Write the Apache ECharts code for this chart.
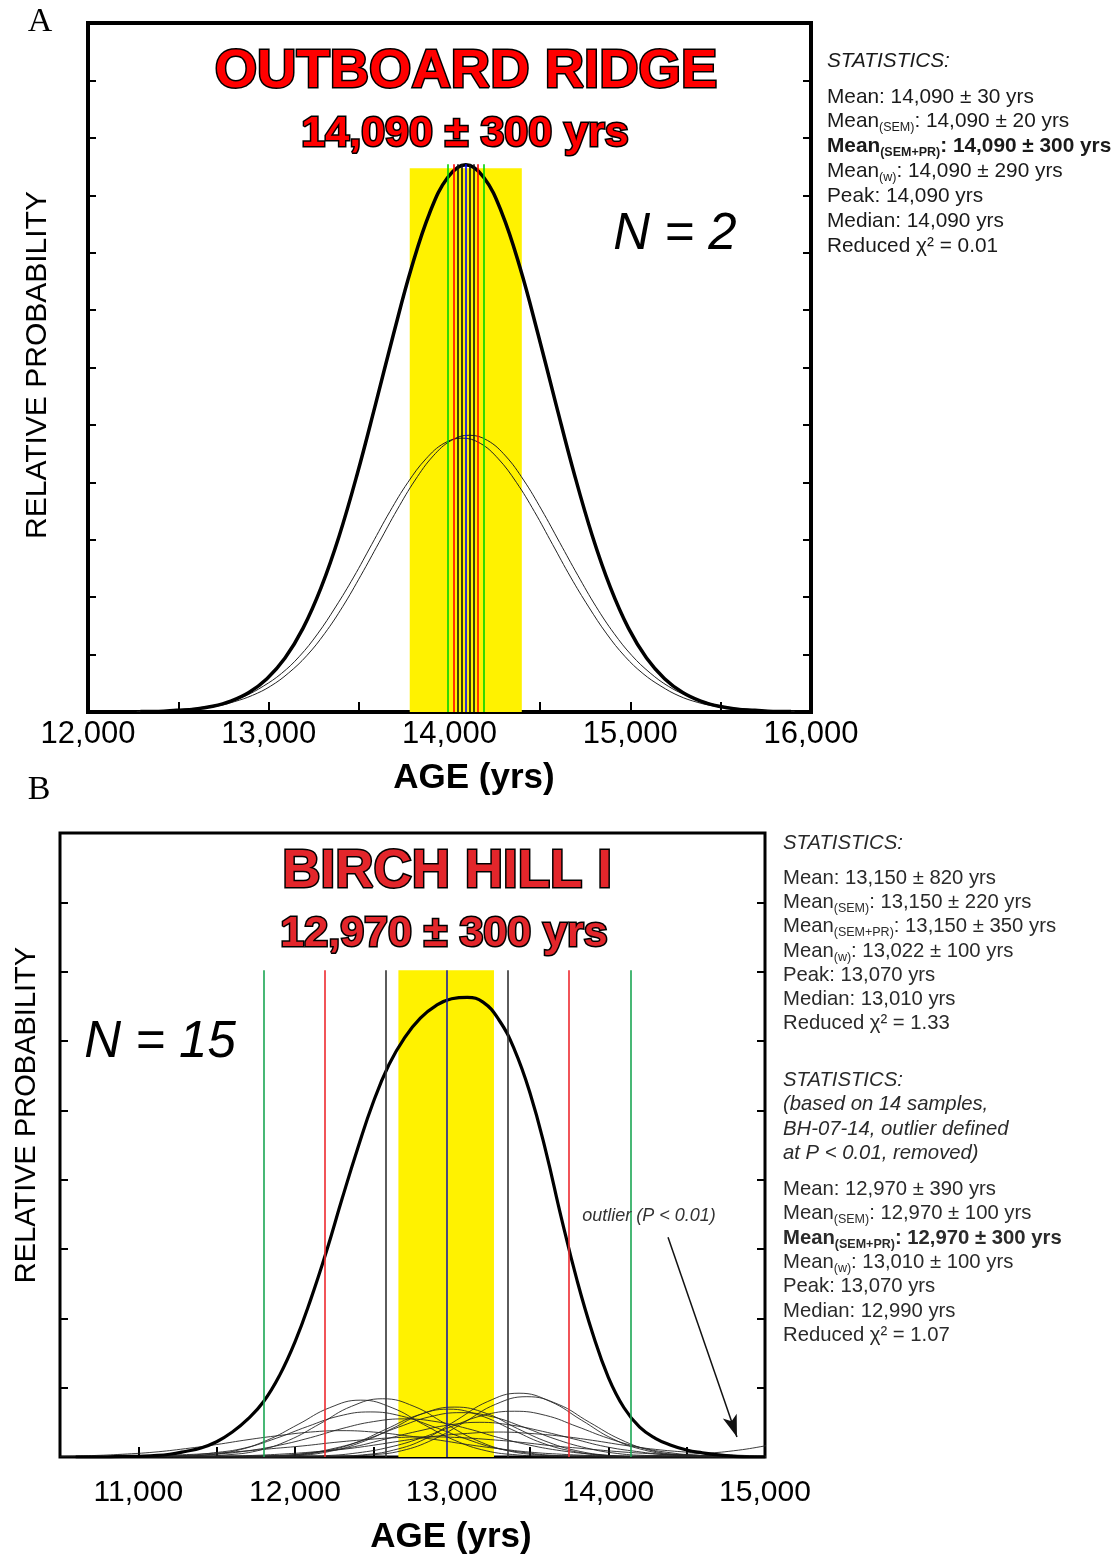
<!DOCTYPE html>
<html><head><meta charset="utf-8">
<script src="https://cdn.jsdelivr.net/npm/echarts/dist/echarts.min.js"></script>
<style>html,body{margin:0;padding:0;background:#fff}#c{width:1115px;height:1559px}</style>
</head><body><div id="c"></div>
<script>
// ---------------- Panel A : Outboard Ridge ----------------
const ridgeXTicks = [12000, 13000, 14000, 15000, 16000];
const ridgeSumAges = [12290,12390,12490,12590,12690,12790,12890,12990,13090,13190,13290,13390,13490,13590,13690,13790,13890,13990,14090,14190,14290,14390,14490,14590,14690,14790,14890,14990,15090,15190,15290,15390,15490,15590,15690,15790,15890];
const ridgeSumValues = [0.01,0.01,0.03,0.05,0.10,0.19,0.34,0.58,0.94,1.46,2.17,3.07,4.15,5.35,6.58,7.74,8.69,9.31,9.53,9.31,8.69,7.74,6.58,5.35,4.15,3.07,2.17,1.46,0.94,0.58,0.34,0.19,0.10,0.05,0.03,0.01,0.01];
const ridgeSampleAges1 = [12270,12370,12470,12570,12670,12770,12870,12970,13070,13170,13270,13370,13470,13570,13670,13770,13870,13970,14070,14170,14270,14370,14470,14570,14670,14770,14870,14970,15070,15170,15270,15370,15470,15570,15670,15770,15870];
const ridgeSampleValues1 = [0.01,0.02,0.03,0.06,0.10,0.17,0.28,0.45,0.67,0.97,1.36,1.83,2.35,2.92,3.49,4.00,4.41,4.68,4.77,4.68,4.41,4.00,3.49,2.92,2.35,1.83,1.36,0.97,0.67,0.45,0.28,0.17,0.10,0.06,0.03,0.02,0.01];
const ridgeSampleAges2 = [12310,12410,12510,12610,12710,12810,12910,13010,13110,13210,13310,13410,13510,13610,13710,13810,13910,14010,14110,14210,14310,14410,14510,14610,14710,14810,14910,15010,15110,15210,15310,15410,15510,15610,15710,15810,15910];
const ridgeSampleValues2 = [0.01,0.02,0.03,0.06,0.10,0.18,0.29,0.45,0.68,0.98,1.37,1.84,2.38,2.95,3.52,4.04,4.46,4.73,4.82,4.73,4.46,4.04,3.52,2.95,2.38,1.84,1.37,0.98,0.68,0.45,0.29,0.18,0.10,0.06,0.03,0.02,0.01];
const ridgeBand = [13780, 14400];
const ridgeLineAges  = [13990, 14022, 14048, 14068, 14090, 14112, 14132, 14158, 14190];
const ridgeLineRoles = ['3sd','2sd','1sd','1sd','mean','1sd','1sd','2sd','3sd'];

// ---------------- Panel B : Birch Hill I ----------------
const birchXTicks = [11000, 12000, 13000, 14000, 15000];
const birchSumAges = [10600,10700,10800,10900,11000,11100,11200,11300,11400,11500,11600,11700,11800,11900,12000,12100,12200,12300,12400,12500,12600,12700,12800,12900,13000,13100,13200,13300,13400,13500,13600,13700,13800,13900,14000,14100,14200,14300,14400,14500,14600,14700,14800,14900,15000];
const birchSumValues = [0.00,0.00,0.00,0.01,0.01,0.02,0.04,0.08,0.13,0.22,0.36,0.55,0.80,1.17,1.66,2.27,2.96,3.72,4.45,5.12,5.66,6.05,6.33,6.51,6.61,6.63,6.56,6.31,5.88,5.25,4.42,3.45,2.55,1.78,1.15,0.71,0.43,0.27,0.17,0.10,0.06,0.03,0.01,0.00,0.00];
const birchSampleAges = [
 [10620,10820,11020,11220,11420,11620,11820,12020,12220,12420,12620,12820,13020,13220,13420,13620,13820,14020,14220],
 [10760,10960,11160,11360,11560,11760,11960,12160,12360,12560,12760,12960,13160,13360,13560,13760,13960,14160,14360],
 [10680,10880,11080,11280,11480,11680,11880,12080,12280,12480,12680,12880,13080,13280,13480,13680,13880,14080,14280],
 [10900,11100,11300,11500,11700,11900,12100,12300,12500,12700,12900,13100,13300,13500,13700,13900,14100,14300,14500],
 [11180,11380,11580,11780,11980,12180,12380,12580,12780,12980,13180,13380,13580,13780,13980,14180,14380,14580,14780],
 [11220,11420,11620,11820,12020,12220,12420,12620,12820,13020,13220,13420,13620,13820,14020,14220,14420,14620,14820],
 [11260,11460,11660,11860,12060,12260,12460,12660,12860,13060,13260,13460,13660,13860,14060,14260,14460,14660,14860],
 [11380,11580,11780,11980,12180,12380,12580,12780,12980,13180,13380,13580,13780,13980,14180,14380,14580,14780,14980],
 [11630,11830,12030,12230,12430,12630,12830,13030,13230,13430,13630,13830,14030,14230,14430,14630,14830,15030,15230],
 [11680,11880,12080,12280,12480,12680,12880,13080,13280,13480,13680,13880,14080,14280,14480,14680,14880,15080,15280],
 [11600,11800,12000,12200,12400,12600,12800,13000,13200,13400,13600,13800,14000,14200,14400,14600,14800,15000,15200],
 [10500,10700,10900,11100,11300,11500,11700,11900,12100,12300,12500,12700,12900,13100,13300,13500,13700,13900,14100],
 [11500,11700,11900,12100,12300,12500,12700,12900,13100,13300,13500,13700,13900,14100,14300,14500,14700,14900,15100],
 [11050,11250,11450,11650,11850,12050,12250,12450,12650,12850,13050,13250,13450,13650,13850,14050,14250,14450,14650],
 [14000,14200,14400,14600,14800,15000,15200]
];
const birchSampleValues = [
 [0.00,0.00,0.00,0.01,0.03,0.09,0.24,0.47,0.71,0.82,0.71,0.47,0.24,0.09,0.03,0.01,0.00,0.00,0.00],
 [0.00,0.00,0.00,0.01,0.03,0.09,0.24,0.48,0.73,0.84,0.73,0.48,0.24,0.09,0.03,0.01,0.00,0.00,0.00],
 [0.00,0.00,0.01,0.02,0.06,0.13,0.27,0.44,0.59,0.65,0.59,0.44,0.27,0.13,0.06,0.02,0.01,0.00,0.00],
 [0.00,0.00,0.01,0.04,0.09,0.17,0.28,0.41,0.51,0.55,0.51,0.41,0.28,0.17,0.09,0.04,0.01,0.00,0.00],
 [0.00,0.00,0.00,0.00,0.02,0.08,0.20,0.40,0.60,0.69,0.60,0.40,0.20,0.08,0.02,0.00,0.00,0.00,0.00],
 [0.00,0.00,0.00,0.00,0.02,0.08,0.21,0.41,0.63,0.72,0.63,0.41,0.21,0.08,0.02,0.00,0.00,0.00,0.00],
 [0.00,0.00,0.01,0.02,0.05,0.13,0.26,0.43,0.58,0.64,0.58,0.43,0.26,0.13,0.05,0.02,0.01,0.00,0.00],
 [0.00,0.00,0.01,0.03,0.08,0.15,0.26,0.37,0.46,0.50,0.46,0.37,0.26,0.15,0.08,0.03,0.01,0.00,0.00],
 [0.00,0.00,0.00,0.01,0.03,0.10,0.26,0.53,0.80,0.92,0.80,0.53,0.26,0.10,0.03,0.01,0.00,0.00,0.00],
 [0.00,0.00,0.00,0.01,0.03,0.09,0.25,0.50,0.76,0.87,0.76,0.50,0.25,0.09,0.03,0.01,0.00,0.00,0.00],
 [0.00,0.00,0.01,0.02,0.06,0.14,0.27,0.44,0.60,0.66,0.60,0.44,0.27,0.14,0.06,0.02,0.01,0.00,0.00],
 [0.01,0.02,0.04,0.07,0.12,0.18,0.25,0.31,0.36,0.38,0.36,0.31,0.25,0.18,0.12,0.07,0.04,0.02,0.01],
 [0.01,0.02,0.04,0.07,0.11,0.17,0.24,0.30,0.34,0.36,0.34,0.30,0.24,0.17,0.11,0.07,0.04,0.02,0.01],
 [0.02,0.03,0.05,0.08,0.12,0.16,0.21,0.25,0.28,0.29,0.28,0.25,0.21,0.16,0.12,0.08,0.05,0.03,0.02],
 [0.00,0.01,0.03,0.05,0.09,0.16,0.25]
];
const birchBand = [12660, 13270];
const birchLineAges  = [11800, 12190, 12580, 12970, 13360, 13750, 14140];
const birchLineRoles = ['3sd','2sd','1sd','mean','1sd','2sd','3sd'];
const birchOutlierArrow = [[14381, 3.17], [14821, 0.29]];

// ---------------- Texts ----------------
const statsA = [
 '{i|STATISTICS:}',
 '{n|Mean: 14,090 ± 30 yrs}',
 '{n|Mean}{s|(SEM)}{n|: 14,090 ± 20 yrs}',
 '{b|Mean}{sb|(SEM+PR)}{b|: 14,090 ± 300 yrs}',
 '{n|Mean}{s|(w)}{n|: 14,090 ± 290 yrs}',
 '{n|Peak: 14,090 yrs}',
 '{n|Median: 14,090 yrs}',
 '{n|Reduced χ² = 0.01}'
];
const statsB = [
 '{i|STATISTICS:}',
 '{n|Mean: 13,150 ± 820 yrs}',
 '{n|Mean}{s|(SEM)}{n|: 13,150 ± 220 yrs}',
 '{n|Mean}{s|(SEM+PR)}{n|: 13,150 ± 350 yrs}',
 '{n|Mean}{s|(w)}{n|: 13,022 ± 100 yrs}',
 '{n|Peak: 13,070 yrs}',
 '{n|Median: 13,010 yrs}',
 '{n|Reduced χ² = 1.33}',
 '{i|STATISTICS:}',
 '{i|(based on 14 samples,}',
 '{i|BH-07-14, outlier defined}',
 '{i|at P < 0.01, removed)}',
 '{n|Mean: 12,970 ± 390 yrs}',
 '{n|Mean}{s|(SEM)}{n|: 12,970 ± 100 yrs}',
 '{b|Mean}{sb|(SEM+PR)}{b|: 12,970 ± 300 yrs}',
 '{n|Mean}{s|(w)}{n|: 13,010 ± 100 yrs}',
 '{n|Peak: 13,070 yrs}',
 '{n|Median: 12,990 yrs}',
 '{n|Reduced χ² = 1.07}'
];

// ================= build =================
const chart = echarts.init(document.getElementById('c'), null, {renderer: 'canvas'});
const FONT = 'Liberation Sans, Arial, Helvetica, sans-serif';
const pairs = (a, v) => a.map((x, i) => [x, v[i]]);
const fmt = v => String(v).replace(/\B(?=(\d{3})+(?!\d))/g, ',');

const colorsA = {'3sd': '#00d400', '2sd': '#ff0000', '1sd': '#111111', 'mean': '#0000ff'};
const colorsB = {'3sd': '#1aa653', '2sd': '#ee2a2f', '1sd': '#333333', 'mean': '#1f1f9c'};

function xAxisCfg(gi, min, max, ticks, fs, margin) {
  return {
    type: 'value', gridIndex: gi, min: min, max: max, interval: 500,
    axisLine: {show: false},
    splitLine: {show: false},
    axisTick: {show: true, inside: true, length: 10, lineStyle: {color: '#000', width: 2}},
    axisLabel: {show: true, color: '#000', fontSize: fs, fontFamily: FONT, margin: margin,
      formatter: v => ticks.indexOf(v) >= 0 ? fmt(v) : ''}
  };
}
function yAxisCfg(gi, max, pos) {
  return {
    type: 'value', gridIndex: gi, min: 0, max: max, interval: 1, position: pos,
    axisLine: {show: false}, splitLine: {show: false}, axisLabel: {show: false},
    axisTick: {show: true, inside: true, length: 8, lineStyle: {color: '#000', width: 2}}
  };
}
function markSeries(xi, yi, band, bandTop, lineAges, roles, colors, lineTop, lw) {
  return {
    type: 'line', xAxisIndex: xi, yAxisIndex: yi, data: [], silent: true, z: 1,
    markArea: {silent: true, itemStyle: {color: '#fff200'},
      data: [[{coord: [band[0], 0]}, {coord: [band[1], bandTop]}]]},
    markLine: {silent: true, symbol: ['none', 'none'], label: {show: false},
      data: lineAges.map((a, i) => [
        {coord: [a, 0], lineStyle: {color: colors[roles[i]], width: lw, type: 'solid'}},
        {coord: [a, lineTop]}
      ])}
  };
}
function curve(xi, yi, data, color, width, z, sm) {
  return {type: 'line', xAxisIndex: xi, yAxisIndex: yi, data: data, showSymbol: false, symbol: 'none',
    smooth: sm, silent: true, z: z, lineStyle: {color: color, width: width}, clip: true};
}

const series = [];
series.push(markSeries(0, 0, ridgeBand, 9.47, ridgeLineAges, ridgeLineRoles, colorsA, 9.54, 1.6));
series.push(curve(0, 0, pairs(ridgeSampleAges1, ridgeSampleValues1), '#222', 1, 3, 0.4));
series.push(curve(0, 0, pairs(ridgeSampleAges2, ridgeSampleValues2), '#222', 1, 3, 0.4));
series.push(curve(0, 0, pairs(ridgeSumAges, ridgeSumValues), '#000', 3.5, 4, 0.4));
series.push(markSeries(1, 2, birchBand, 7.02, birchLineAges, birchLineRoles, colorsB, 7.02, 1.6));
birchSampleAges.forEach((ages, i) => series.push(curve(1, 2, pairs(ages, birchSampleValues[i]), '#262626', 0.9, 3, 0.45)));
series.push(curve(1, 2, pairs(birchSumAges, birchSumValues), '#000', 3.2, 4, 0.45));
series.push({type: 'line', xAxisIndex: 1, yAxisIndex: 2, data: [], silent: true, z: 5,
  markLine: {silent: true, symbol: ['none', 'arrow'], symbolSize: [11, 22], label: {show: false},
    lineStyle: {color: '#111', width: 1.5, type: 'solid'},
    data: [[{coord: birchOutlierArrow[0]}, {coord: birchOutlierArrow[1]}]]}});

function statText(lines, x, ys, color, fs) {
  const rich = {
    n: {fontSize: fs, fontFamily: FONT, fill: color, lineHeight: 26},
    b: {fontSize: fs, fontFamily: FONT, fill: color, fontWeight: 'bold', lineHeight: 26},
    i: {fontSize: fs, fontFamily: FONT, fill: color, fontStyle: 'italic', lineHeight: 26},
    s: {fontSize: 12.5, fontFamily: FONT, fill: color, lineHeight: 12, padding: [13, 0, 0, 0]},
    sb: {fontSize: 12.5, fontFamily: FONT, fill: color, fontWeight: 'bold', lineHeight: 12, padding: [13, 0, 0, 0]}
  };
  return lines.map((t, i) => ({type: 'text', x: x, y: ys[i], silent: true,
    style: {text: t, rich: rich, textAlign: 'left', textVerticalAlign: 'middle'}}));
}
function outlined(text, x, y, size, fill) {
  return {type: 'text', x: x, y: y, silent: true, z: 10,
    style: {text: text, fontSize: size, fontWeight: 'bold', fontFamily: FONT, fill: fill,
      stroke: '#000', lineWidth: 3, strokeFirst: true, textAlign: 'center', textVerticalAlign: 'middle'}};
}
function plain(text, x, y, size, opts) {
  return {type: 'text', x: x, y: y, silent: true, rotation: (opts && opts.rot) || 0, z: 10,
    style: Object.assign({text: text, fontSize: size, fontFamily: FONT, fill: '#000',
      textAlign: 'center', textVerticalAlign: 'middle'}, (opts && opts.style) || {})};
}

const graphics = [
  plain('A', 40, 22, 34, {style: {fontFamily: 'Liberation Serif, Times New Roman, serif'}}),
  plain('B', 39, 790, 34, {style: {fontFamily: 'Liberation Serif, Times New Roman, serif'}}),
  outlined('OUTBOARD RIDGE', 466, 72, 54.5, '#ff0000'),
  outlined('14,090 ± 300 yrs', 465, 134, 43, '#ff0000'),
  outlined('BIRCH HILL I', 447, 872, 53, '#e3262b'),
  outlined('12,970 ± 300 yrs', 444, 934, 43, '#e3262b'),
  plain('N = 2', 675, 235, 51, {style: {fontStyle: 'italic'}}),
  plain('N = 15', 160, 1043, 51, {style: {fontStyle: 'italic'}}),
  plain('AGE (yrs)', 474, 778, 35, {style: {fontWeight: 'bold'}}),
  plain('AGE (yrs)', 451, 1537, 35, {style: {fontWeight: 'bold'}}),
  plain('RELATIVE PROBABILITY', 38, 365, 30, {rot: Math.PI / 2}),
  plain('RELATIVE PROBABILITY', 27, 1115, 29, {rot: Math.PI / 2}),
  plain('outlier (P < 0.01)', 649, 1216, 18, {style: {fontStyle: 'italic', fill: '#333'}})
].concat(
  statText(statsA, 827, [61, 97, 121, 146, 171, 196, 221, 246], '#1a1a1a', 20.8),
  statText(statsB, 783, [843, 878, 902, 926, 951, 975, 999, 1023, 1080, 1104, 1129, 1153, 1189, 1213, 1238, 1262, 1286, 1311, 1335], '#2a2a2a', 20.3)
);

chart.setOption({
  animation: false,
  backgroundColor: '#fff',
  grid: [
    {left: 88, top: 23, width: 723, height: 689, show: true, borderColor: '#000', borderWidth: 4, backgroundColor: 'transparent', containLabel: false, outerBoundsMode: 'none'},
    {left: 60, top: 833, width: 705, height: 624, show: true, borderColor: '#000', borderWidth: 3, backgroundColor: 'transparent', containLabel: false, outerBoundsMode: 'none'}
  ],
  xAxis: [xAxisCfg(0, 12000, 16000, ridgeXTicks, 31, 7), xAxisCfg(1, 10500, 15000, birchXTicks, 30, 21)],
  yAxis: [yAxisCfg(0, 12, 'left'), yAxisCfg(0, 12, 'right'), yAxisCfg(1, 9, 'left'), yAxisCfg(1, 9, 'right')],
  series: series,
  graphic: graphics
});
</script></body></html>
